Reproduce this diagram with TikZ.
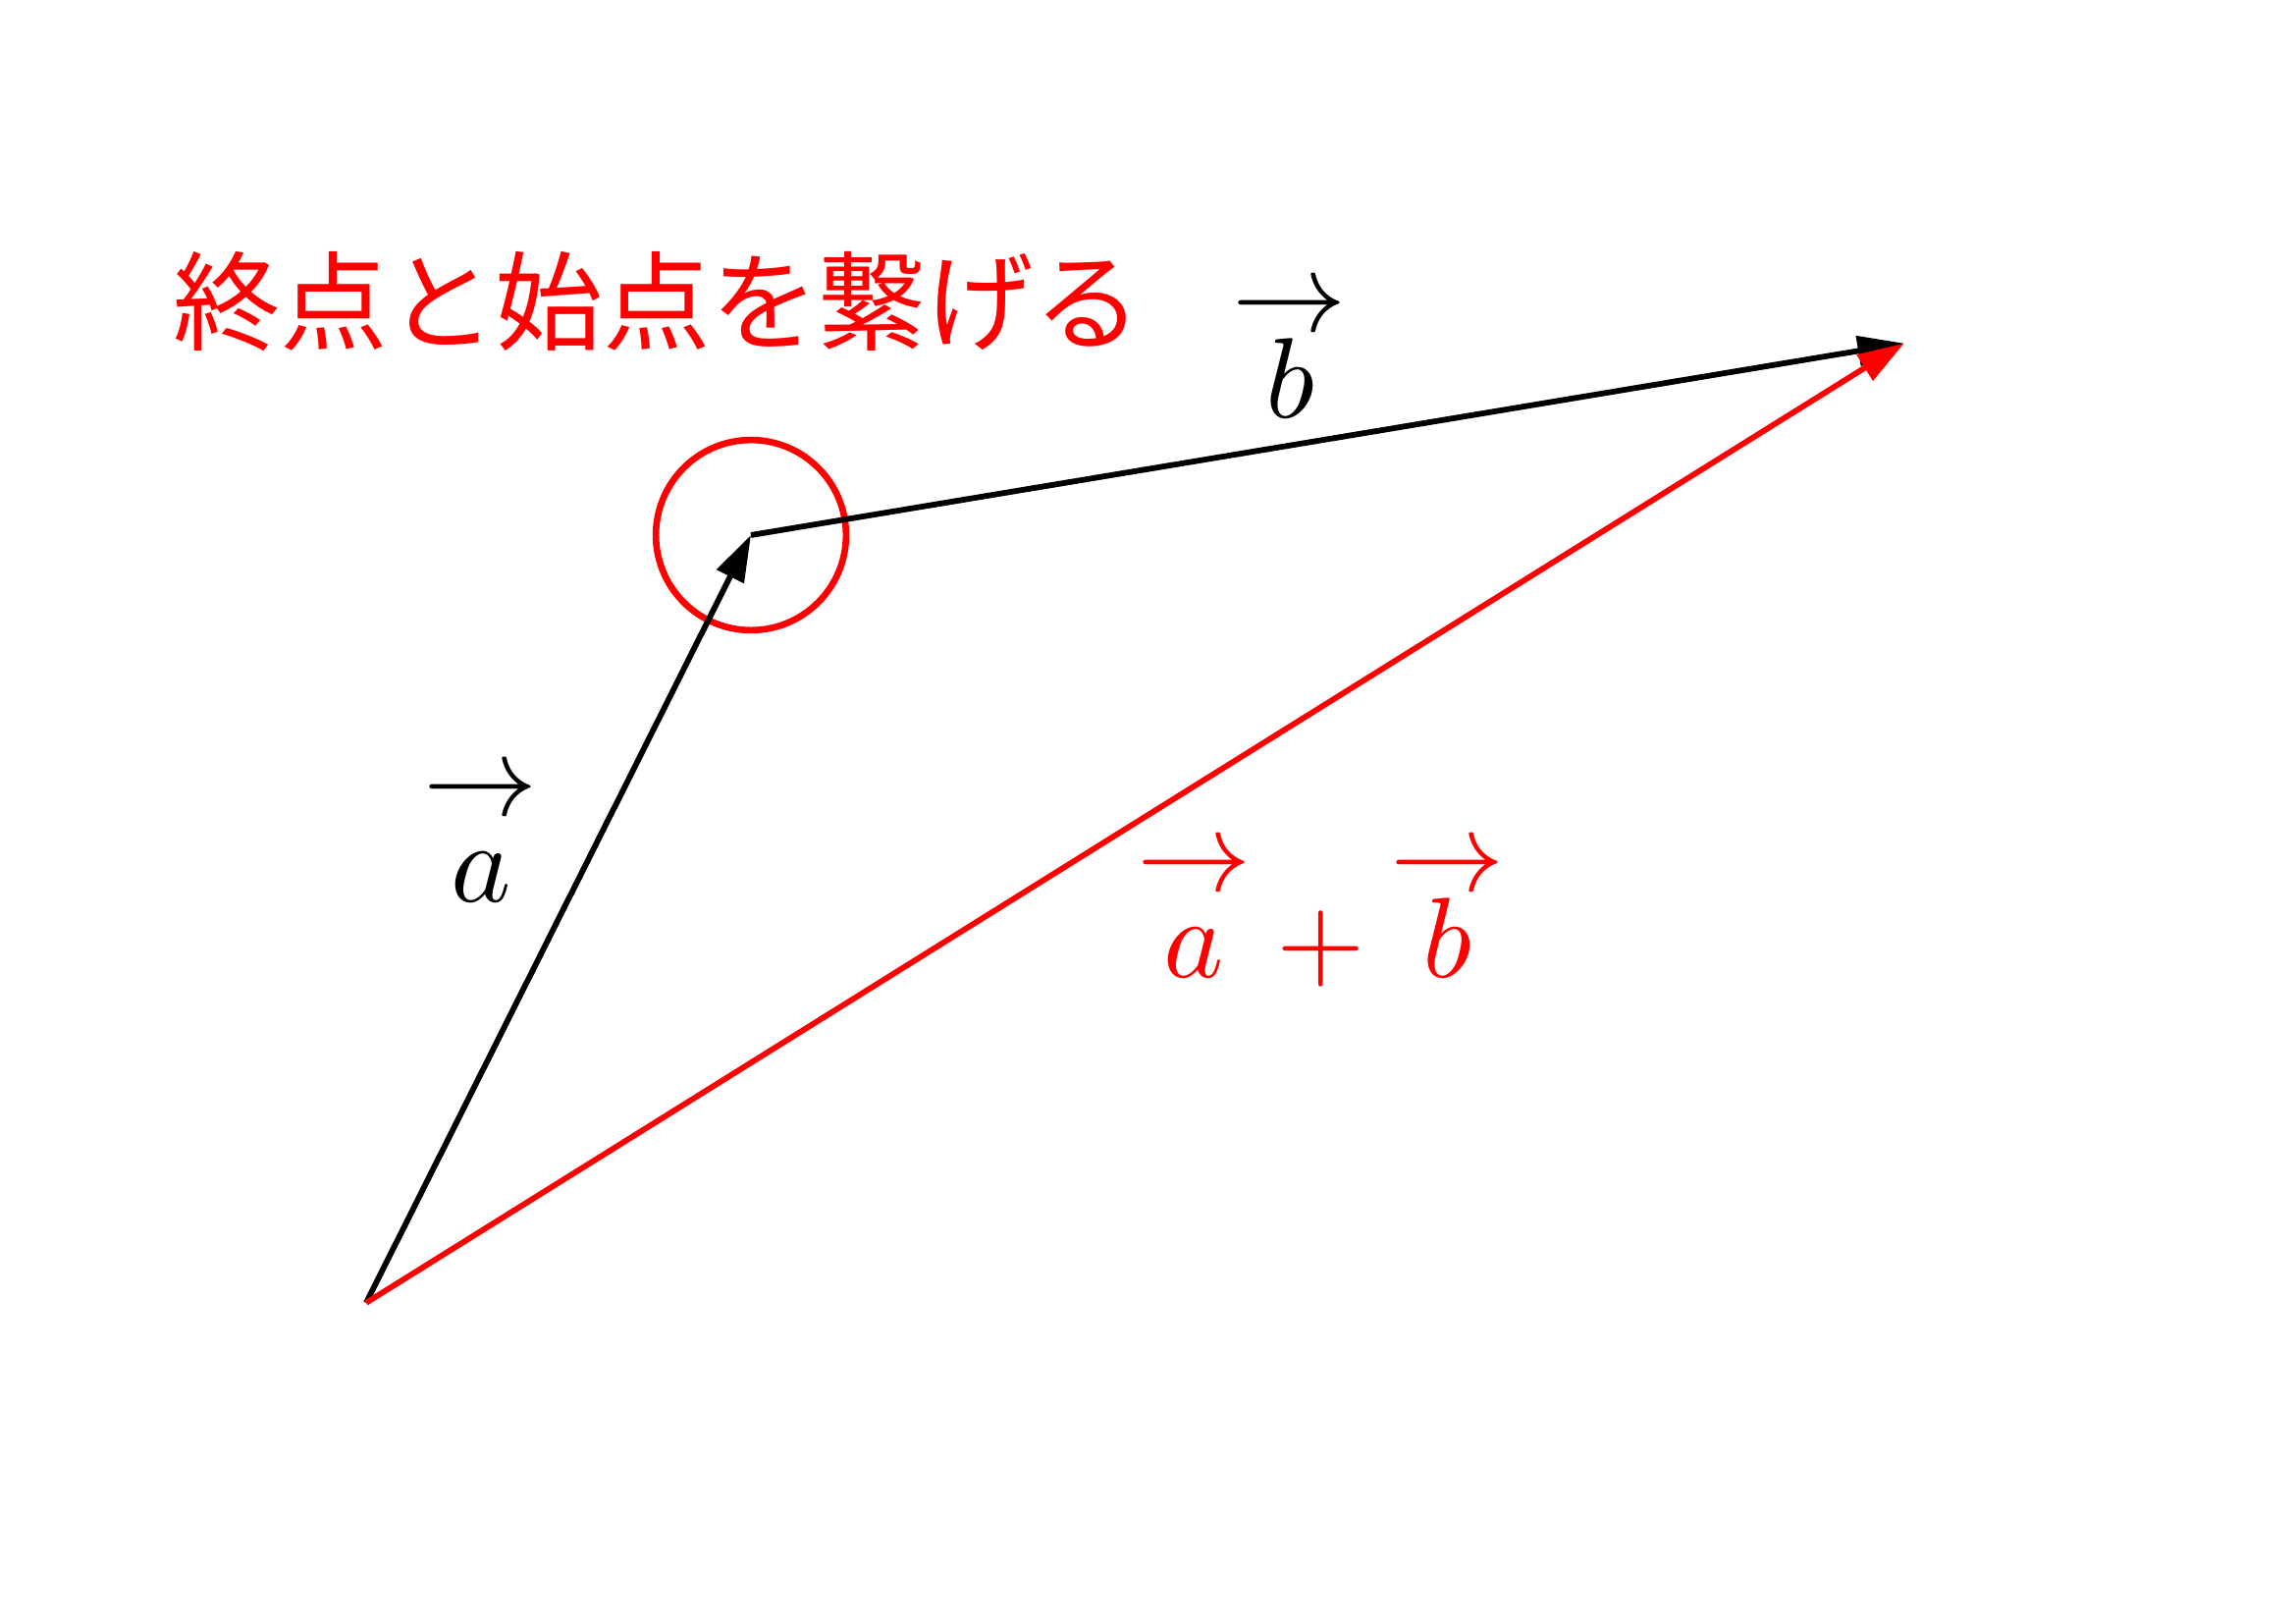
\documentclass[tikz,border=0pt]{standalone}
\usepackage{fix-cm}
\usepackage{fontspec}
\newfontfamily\cjk{Noto Sans CJK JP}
\usetikzlibrary{arrows.meta}
\DeclareFontShape{OML}{cmm}{m}{it}{<->cmmi10}{}
\DeclareFontShape{OMS}{cmsy}{m}{n}{<->cmsy10}{}
\DeclareFontShape{OT1}{cmr}{m}{n}{<->cmr10}{}
\newcommand\vlab[1]{\vbox{\baselineskip=32pt\lineskiplimit=-100pt\lineskip=0pt
  \hbox to 1em{\hss$\rightarrow$\hss}\hbox to 1em{\hss$#1$\hss}}}
\tikzset{
  vec/.style={line width=2.1pt, -{Triangle[length=0.6cm,width=0.38cm]}},
  lab/.style={inner sep=0pt, anchor=base, font=\fontsize{42}{32}\selectfont},
  ring/.style={circle, draw=red, line width=2.4pt, minimum size=2.46cm, inner sep=0pt},
  title/.style={text=red, inner sep=0pt, font=\cjk\fontsize{39.6}{47}\selectfont}
}
\begin{document}
\begin{tikzpicture}
\useasboundingbox (0,0) rectangle (29.7,21.0);
\coordinate (O) at (4.736,4.152);
\coordinate (A) at (9.714,14.08);
\coordinate (B) at (24.63,16.56);
\node[ring] (ringA) at (A) {};
\draw[vec, black] (O) -- (A);
\draw[vec, black] (A) -- (B);
\draw[vec, red] (O) -- (B);
\node[title] (ttl) at (8.50,17.10) {終点と始点を繋げる};
\node[lab] (la) at (6.222,9.333) {$\vlab{a}$};
\node[lab] (lb) at (16.686,15.594) {$\vlab{b}$};
\node[lab, text=red] (lab2) at (17.085,8.356) {$\vlab{a}+\vlab{b}$};
\end{tikzpicture}
\end{document}
